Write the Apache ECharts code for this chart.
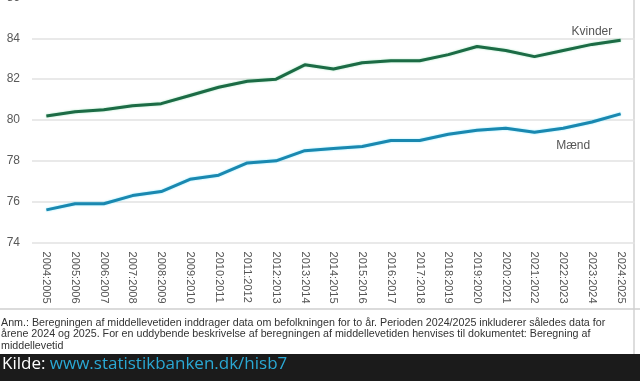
<!DOCTYPE html>
<html>
<head>
<meta charset="utf-8">
<script src="https://cdn.jsdelivr.net/npm/echarts@6/dist/echarts.min.js"></script>
<style>
html,body{margin:0;padding:0;background:#fff;}
#chart{width:640px;height:381px;}
</style>
</head>
<body>
<div id="chart"></div>
<script>
const categories = ["2004:2005","2005:2006","2006:2007","2007:2008","2008:2009","2009:2010","2010:2011","2011:2012","2012:2013","2013:2014","2014:2015","2015:2016","2016:2017","2017:2018","2018:2019","2019:2020","2020:2021","2021:2022","2022:2023","2023:2024","2024:2025"];
const kvinder = [80.2,80.4,80.5,80.7,80.8,81.2,81.6,81.9,82.0,82.7,82.5,82.8,82.9,82.9,83.2,83.6,83.4,83.1,83.4,83.7,83.9];
const maend = [75.6,75.9,75.9,76.3,76.5,77.1,77.3,77.9,78.0,78.5,78.6,78.7,79.0,79.0,79.3,79.5,79.6,79.4,79.6,79.9,80.3];
const seriesNames = ["Kvinder","Mænd"];
const yTicks = [74,76,78,80,82,84,86];
const noteText = "Anm.: Beregningen af middellevetiden inddrager data om befolkningen for to år. Perioden 2024/2025 inkluderer således data for\nårene 2024 og 2025. For en uddybende beskrivelse af beregningen af middellevetiden henvises til dokumentet: Beregning af\nmiddellevetid";
const sourceLabel = "Kilde: ";
const sourceLink = "www.statistikbanken.dk/hisb7";

const chart = echarts.init(document.getElementById('chart'), null, {renderer:'canvas'});

function withLabel(values, idx, labelOpt){
  return values.map((v,i)=> i===idx ? {value:v, label:labelOpt} : v);
}

const option = {
  animation:false,
  backgroundColor:'#fff',
  textStyle:{fontFamily:'Liberation Sans, Arial, sans-serif'},
  grid:{left:32, right:5, top:-2.6, bottom:138.4, containLabel:false, outerBoundsMode:'none'},
  xAxis:{
    type:'category',
    data:categories,
    boundaryGap:true,
    axisLine:{show:false},
    axisTick:{show:false},
    axisLabel:{rotate:-90, color:'#555', fontSize:11, margin:9, interval:0, fontFamily:'Liberation Sans, Arial, sans-serif'}
  },
  yAxis:{
    type:'value',
    min:yTicks[0], max:yTicks[yTicks.length-1], interval:2,
    axisLine:{show:false}, axisTick:{show:false},
    axisLabel:{color:'#595959', fontSize:12, margin:12, align:'right'},
    splitLine:{lineStyle:{color:'#e2e2e2', width:1.5}}
  },
  series:[
    {
      name:seriesNames[0], type:'line', symbol:'circle', symbolSize:1, showSymbol:true,
      itemStyle:{color:'rgba(0,0,0,0)', borderWidth:0},
      data:withLabel(kvinder,19,{show:true, position:'top', distance:6, formatter:seriesNames[0], color:'#555', fontSize:12}),
      lineStyle:{color:'#1c6b45', width:3, shadowColor:'rgba(60,200,120,0.5)', shadowBlur:2},
      label:{show:false},
      emphasis:{disabled:true}
    },
    {
      name:seriesNames[1], type:'line', symbol:'circle', symbolSize:1, showSymbol:true,
      itemStyle:{color:'rgba(0,0,0,0)', borderWidth:0},
      data:withLabel(maend,18,{show:true, position:'bottom', distance:11, offset:[10,0], formatter:seriesNames[1], color:'#555', fontSize:12}),
      lineStyle:{color:'#1a88b0', width:3, shadowColor:'rgba(60,220,255,0.6)', shadowBlur:2},
      label:{show:false},
      emphasis:{disabled:true}
    }
  ],
  graphic:[
    {type:'line', shape:{x1:634, y1:0, x2:634, y2:354}, style:{stroke:'#bbb', lineWidth:1}},
    {type:'line', shape:{x1:0, y1:309, x2:640, y2:309}, style:{stroke:'#cfcfcf', lineWidth:1.5}},
    {type:'text', left:1, top:317, style:{text:noteText, fill:'#333', font:'10.7px "Liberation Sans", Arial, sans-serif', lineHeight:11.5}},
    {type:'rect', shape:{x:0, y:354, width:640, height:27}, style:{fill:'#1b1b1b'}},
    {type:'text', left:2, top:356, style:{
      text:'{a|'+sourceLabel+'}{b|'+sourceLink+'}',
      rich:{
        a:{fill:'#ffffff', font:'17px "Open Sans", "Noto Sans", sans-serif'},
        b:{fill:'#2aa8d4', font:'17px "Open Sans", "Noto Sans", sans-serif'}
      }
    }}
  ]
};
chart.setOption(option);
</script>
</body>
</html>
